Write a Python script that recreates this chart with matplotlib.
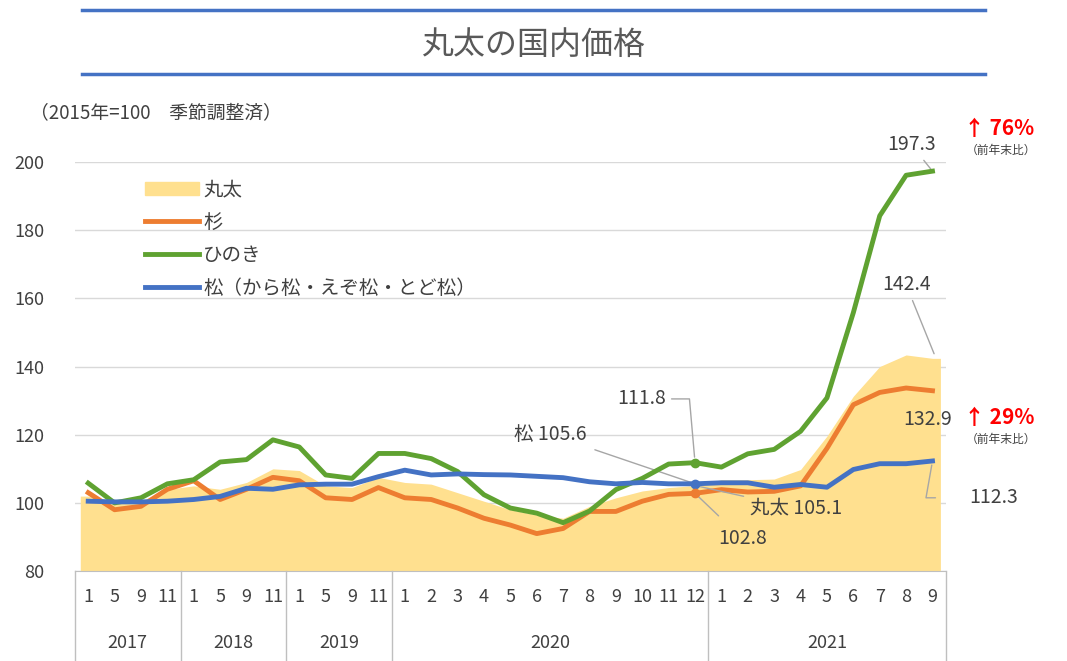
import matplotlib.pyplot as plt
from matplotlib.lines import Line2D
from matplotlib.patches import Patch

plt.rcParams['font.family'] = ['Noto Sans CJK JP']

# --- data ---
years = ['2017', '2018', '2019', '2020', '2021']
year_counts = [4, 4, 4, 12, 9]
months = ['1', '5', '9', '11'] * 3 + [str(m) for m in range(1, 13)] + [str(m) for m in range(1, 10)]

maruta = [102, 100, 100.5, 104, 105, 104, 106, 110, 109.5, 105, 104.5, 107.5,
          106, 105.5, 103, 100.5, 98, 96.5, 95.5, 99, 101.5, 103.5, 104.5, 105.1,
          106.8, 106.8, 107, 109.8, 119.6, 131.3, 140, 143.4, 142.4]
sugi = [103, 98, 99, 104, 106.5, 101, 104, 107.5, 106.5, 101.5, 101, 104.5,
        101.5, 101, 98.5, 95.5, 93.5, 91, 92.5, 97.5, 97.5, 100.5, 102.5, 102.8,
        103.9, 103.2, 103.4, 105, 116, 128.8, 132.4, 133.7, 132.9]
hinoki = [105.8, 100, 101.5, 105.6, 106.8, 112, 112.7, 118.5, 116.4, 108.2, 107.2, 114.5,
          114.5, 113, 109.2, 102.4, 98.5, 97, 94.2, 97.6, 103.9, 107.2, 111.4, 111.8,
          110.5, 114.4, 115.7, 121, 130.8, 155.8, 184.2, 196.1, 197.3]
matsu = [100.5, 100.3, 100.3, 100.5, 101, 101.9, 104.3, 104, 105.3, 105.5, 105.5, 107.7,
         109.6, 108.2, 108.5, 108.3, 108.2, 107.8, 107.4, 106.2, 105.6, 106, 105.6, 105.6,
         105.9, 105.9, 104.6, 105.4, 104.6, 109.8, 111.5, 111.5, 112.3]

c_yel = '#FFE08F'
c_org = '#ED7D31'
c_grn = '#5FA231'
c_blu = '#4472C4'
txt = '#404040'
lc = '#a6a6a6'

x = list(range(len(months)))
last = len(x) - 1

fig = plt.figure(figsize=(10.67, 6.61), dpi=100)
ax = fig.add_axes([0.0703, 0.136, 0.816, 0.619])

# area spans the full category bands at both ends
fx = [-0.3] + x + [last + 0.3]
fy = [maruta[0]] + maruta + [maruta[-1]]
ax.fill_between(fx, 0, fy, color=c_yel, lw=0, zorder=1)
ax.plot(x, sugi, color=c_org, lw=3.5, zorder=3)
ax.plot(x, hinoki, color=c_grn, lw=3.5, zorder=4)
ax.plot(x, matsu, color=c_blu, lw=3.5, zorder=5)
ax.plot([23], [hinoki[23]], 'o', color=c_grn, ms=6, zorder=6)
ax.plot([23], [matsu[23]], 'o', color=c_blu, ms=6, zorder=6)
ax.plot([23], [sugi[23]], 'o', color=c_org, ms=6, zorder=6)

ax.set_xlim(-0.5, 32.5)
ax.set_ylim(80, 200)
ax.set_yticks(range(80, 201, 20))
ax.tick_params(axis='y', length=0, labelsize=13, colors=txt, pad=22)
ax.grid(axis='y', color='#d9d9d9', lw=1)
ax.set_axisbelow(True)
for s in ['top', 'right', 'left']:
    ax.spines[s].set_visible(False)
ax.spines['bottom'].set_color('#bfbfbf')
ax.set_xticks(x)
ax.set_xticklabels(months, fontsize=13, color=txt)
ax.tick_params(axis='x', length=0, pad=12)

# year labels and separators
trans = ax.get_xaxis_transform()
start = -0.5
for yr, n in zip(years, year_counts):
    ax.text(start + n / 2, -0.175, yr, transform=trans, ha='center', va='center',
            fontsize=13, color=txt)
    ax.plot([start, start], [0, -0.24], transform=trans, color='#bfbfbf', lw=1, clip_on=False)
    start += n
ax.plot([start, start], [0, -0.24], transform=trans, color='#bfbfbf', lw=1, clip_on=False)

# legend
handles = [Patch(color=c_yel), Line2D([], [], color=c_org, lw=3.5),
           Line2D([], [], color=c_grn, lw=3.5), Line2D([], [], color=c_blu, lw=3.5)]
labels = ['丸太', '杉', 'ひのき', '松（から松・えぞ松・とど松）']
ax.legend(handles, labels, loc='upper left', bbox_to_anchor=(0.06, 1.0), frameon=False,
          fontsize=14, labelspacing=0.6, handlelength=2.8, handletextpad=0.2, labelcolor=txt)

# annotations
ap = dict(arrowstyle='-', color=lc, lw=1)
ax.annotate('197.3', (32, hinoki[32]), xytext=(31.2, 205), fontsize=14, color=txt,
            ha='center', va='center', arrowprops=ap, annotation_clip=False)
ax.annotate('142.4', (32.1, 143), xytext=(31.0, 164), fontsize=14, color=txt,
            ha='center', va='center', arrowprops=ap)
ax.text(31.8, 124.5, '132.9', fontsize=14, color=txt, ha='center', va='center')
ax.annotate('112.3', (32, matsu[32]), xytext=(34.3, 101.5), fontsize=14, color=txt,
            ha='center', va='center', annotation_clip=False,
            arrowprops=dict(arrowstyle='-', color=lc, lw=1, shrinkA=22, shrinkB=3,
                            connectionstyle='angle,angleA=180,angleB=80,rad=0'))
ax.annotate('111.8', (23, hinoki[23]), xytext=(21.9, 130.5), fontsize=14, color=txt,
            ha='right', va='center',
            arrowprops=dict(arrowstyle='-', color=lc, lw=1, shrinkA=2, shrinkB=4,
                            connectionstyle='angle,angleA=0,angleB=95,rad=0'))
ax.annotate('松 105.6', (23, matsu[23]), xytext=(18.9, 120), fontsize=14, color=txt,
            ha='right', va='center',
            arrowprops=dict(arrowstyle='-', color=lc, lw=1, shrinkA=4, shrinkB=3))
ax.annotate('丸太 105.1', (23, maruta[23]), xytext=(25.1, 98.5), fontsize=14, color=txt,
            ha='left', va='center',
            arrowprops=dict(arrowstyle='-', color=lc, lw=1, shrinkA=3))
ax.annotate('102.8', (23, sugi[23]), xytext=(24.8, 89.5), fontsize=14, color=txt,
            ha='center', va='center', arrowprops=dict(arrowstyle='-', color=lc, lw=1, shrinkA=10))

# red change labels
fig.text(0.903, 0.806, '↑ 76%', color='#FF0000', fontsize=15, fontweight='bold', va='center')
fig.text(0.905, 0.773, '（前年末比）', color=txt, fontsize=8.5, va='center')
fig.text(0.903, 0.368, '↑ 29%', color='#FF0000', fontsize=15, fontweight='bold', va='center')
fig.text(0.905, 0.335, '（前年末比）', color=txt, fontsize=8.5, va='center')

# title block
fig.add_artist(Line2D([0.077, 0.923], [0.985, 0.985], color=c_blu, lw=2.5))
fig.add_artist(Line2D([0.077, 0.923], [0.888, 0.888], color=c_blu, lw=2.5))
fig.text(0.5, 0.932, '丸太の国内価格', ha='center', va='center', fontsize=23, color='#595959')
fig.text(0.028, 0.829, '（2015年=100　季節調整済）', fontsize=13.5, color=txt, va='center')

fig.savefig('out.png', dpi=100)
